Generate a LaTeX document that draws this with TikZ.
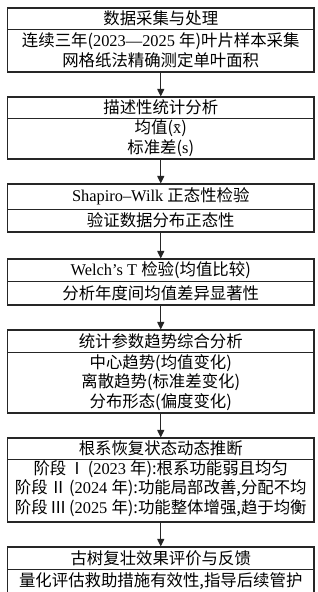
\documentclass[tikz,border=0pt]{standalone}
\usepackage{fontspec}
\setmainfont{Liberation Serif}
\newfontfamily\cjk{Noto Sans CJK SC}
\usetikzlibrary{arrows.meta}
\newcommand\rn[1]{\hspace{2.5pt}{\cjk #1}\hspace{2.5pt}}
\begin{document}
\begin{tikzpicture}[x=1pt,y=-1pt,
  box/.style={draw=black!85, line width=1.1pt, minimum width=306.5pt, inner sep=0pt},
  lbl/.style={inner sep=0pt, align=center, font=\fontsize{16.4}{19.6}\selectfont},
  arr/.style={draw=black!85, line width=1pt, -{Triangle[length=7.5pt,width=7pt]}},
  divl/.style={draw=black!85, line width=0.9pt}]
\clip (0,0) rectangle (318,592);
\fill[white] (0,0) rectangle (318,592);
% boxes
\node[box, minimum height=64pt] (b1) at (160.75,40) {};
\node[box, minimum height=62pt] (b2) at (160.75,128) {};
\node[box, minimum height=48pt] (b3) at (160.75,208) {};
\node[box, minimum height=46pt] (b4) at (160.75,282) {};
\node[box, minimum height=83pt] (b5) at (160.75,371.5) {};
\node[box, minimum height=84pt] (b6) at (160.75,480) {};
\node[box, minimum height=50pt] (b7) at (160.75,572) {};
% dividers
\draw[divl] (7.5,29) -- (314,29);
\draw[divl] (7.5,118) -- (314,118);
\draw[divl] (7.5,209) -- (314,209);
\draw[divl] (7.5,281) -- (314,281);
\draw[divl] (7.5,352) -- (314,352);
\draw[divl] (7.5,459) -- (314,459);
\draw[divl] (7.5,569) -- (314,569);
% texts
\node[lbl] (h1) at (160.75,18.5) {\cjk 数据采集与处理};
\node[lbl] (t1) at (160.75,50.5) {{\cjk 连续三年(}2023—2025 {\cjk 年)叶片样本采集}\\{\cjk 网格纸法精确测定单叶面积}};
\node[lbl] (h2) at (160.75,107.5) {\cjk 描述性统计分析};
\node[lbl] (t2) at (160.75,138.5) {{\cjk 均值(}x̄{\cjk )}\\{\cjk 标准差(}s{\cjk )}};
\node[lbl] (h3) at (160.75,196.5) {Shapiro–Wilk {\cjk 正态性检验}};
\node[lbl] (t3) at (160.75,220.5) {\cjk 验证数据分布正态性};
\node[lbl] (h4) at (160.75,270) {Welch’s T {\cjk 检验(均值比较)}};
\node[lbl] (t4) at (160.75,293) {\cjk 分析年度间均值差异显著性};
\node[lbl] (h5) at (160.75,341) {\cjk 统计参数趋势综合分析};
\node[lbl] (t5) at (160.75,382.5) {{\cjk 中心趋势(均值变化)}\\{\cjk 离散趋势(标准差变化)}\\{\cjk 分布形态(偏度变化)}};
\node[lbl] (h6) at (160.75,448.5) {\cjk 根系恢复状态动态推断};
\node[lbl] (t6) at (160.75,488.5) {{\cjk 阶段}\rn{Ⅰ}{\cjk (}2023 {\cjk 年):根系功能弱且均匀}\\{\cjk 阶段}\rn{Ⅱ}{\cjk (}2024 {\cjk 年):功能局部改善,分配不均}\\{\cjk 阶段}\rn{Ⅲ}{\cjk (}2025 {\cjk 年):功能整体增强,趋于均衡}};
\node[lbl] (h7) at (160.75,558) {\cjk 古树复壮效果评价与反馈};
\node[lbl] (t7) at (160.75,581) {\cjk 量化评估救助措施有效性,指导后续管护};
% arrows
\draw[arr] (b1.south) -- (b2.north);
\draw[arr] (b2.south) -- (b3.north);
\draw[arr] (b3.south) -- (b4.north);
\draw[arr] (b4.south) -- (b5.north);
\draw[arr] (b5.south) -- (b6.north);
\draw[arr] (b6.south) -- (b7.north);
\end{tikzpicture}
\end{document}
